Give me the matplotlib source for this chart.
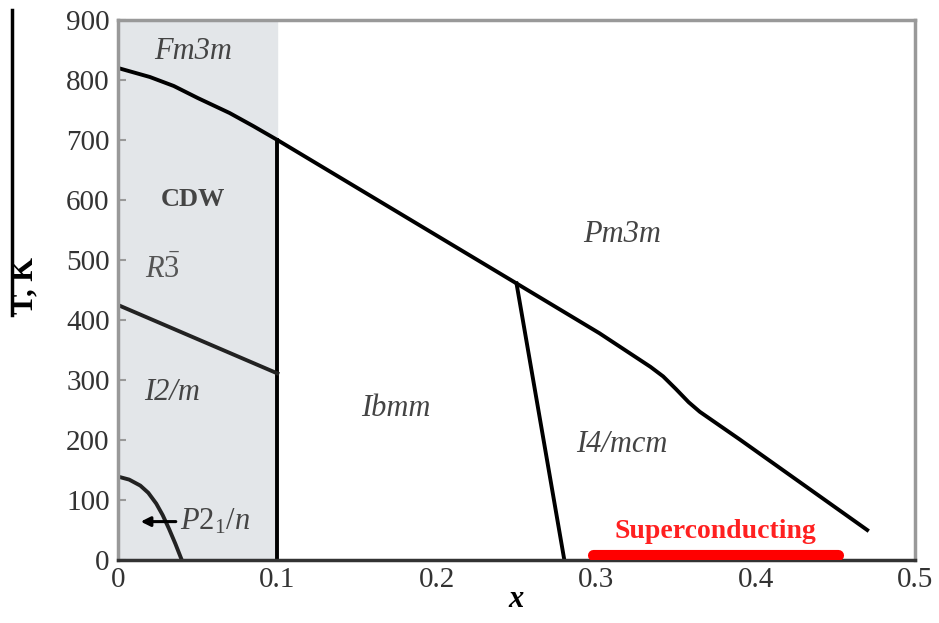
import matplotlib.pyplot as plt
from matplotlib.lines import Line2D

plt.rcParams['font.family'] = ['Liberation Serif', 'DejaVu Serif']
plt.rcParams['mathtext.fontset'] = 'custom'
plt.rcParams['mathtext.rm'] = 'Liberation Serif'
plt.rcParams['mathtext.it'] = 'Liberation Serif:italic'

# phase boundaries (x, T in K)
upper_x = [0.0, 0.02, 0.035, 0.05, 0.07, 0.085, 0.1, 0.25, 0.302, 0.334,
           0.342, 0.350, 0.358, 0.365, 0.39, 0.47]
upper_T = [820, 805, 790, 770, 745, 723, 700, 461, 378, 322,
           306, 285, 263, 247, 201, 50]
cdw_x = [0.1, 0.1]
cdw_T = [700, 0]
i2m_x = [0.0, 0.1]
i2m_T = [425, 311]
p21_x = [0.0, 0.007, 0.014, 0.019, 0.024, 0.028, 0.032, 0.036, 0.04]
p21_T = [139, 134, 124, 112, 94, 75, 52, 27, 0]
i4_x = [0.25, 0.28]
i4_T = [461, 0]
sc_x = [0.298, 0.452]
sc_T = [8, 8]

phase_names = ['Fm3m', 'Pm3m', 'I2/m', 'Ibmm', 'I4/mcm']
phase_x = [0.047, 0.316, 0.034, 0.174, 0.316]
phase_T = [847, 542, 280, 253, 192]

fig = plt.figure(figsize=(9.39, 6.23), dpi=100)
ax = fig.add_axes([118 / 939, 63 / 623, 797 / 939, 540 / 623])

ax.axvspan(0, 0.1, color='#e3e6e9', zorder=0)

lw = 2.8
ax.plot(upper_x, upper_T, color='black', lw=lw)
ax.plot(cdw_x, cdw_T, color='black', lw=lw)
ax.plot(i2m_x, i2m_T, color='#222222', lw=lw)
ax.plot(p21_x, p21_T, color='#222222', lw=lw)
ax.plot(i4_x, i4_T, color='black', lw=lw)
ax.plot(sc_x, sc_T, color='#ff0000', lw=8, solid_capstyle='round', zorder=5)

for name, px, pT in zip(phase_names, phase_x, phase_T):
    ax.text(px, pT, name, style='italic', fontsize=22, color='#444444',
            ha='center', va='center')

ax.text(0.047, 600, 'CDW', fontsize=19, fontweight='bold', color='#444444',
        ha='center', va='center')
ax.text(0.028, 483, r'$\mathit{R}\bar{\mathrm{3}}$', fontsize=22, color='#555555',
        ha='center', va='center')
ax.annotate('', xy=(0.0125, 64), xytext=(0.038, 64),
            arrowprops=dict(arrowstyle='-|>', color='black', lw=2.2, mutation_scale=14))
ax.text(0.039, 64, r'$\mathit{P}$2$_{1}$$\mathit{/n}$', fontsize=22, color='#444444',
        ha='left', va='center')
ax.text(0.3745, 48, 'Superconducting', fontsize=20, fontweight='bold',
        color='#ff2020', ha='center', va='center')

ax.set_xlim(0, 0.5)
ax.set_ylim(0, 900)
ax.set_xticks([0, 0.1, 0.2, 0.3, 0.4, 0.5])
ax.set_xticklabels(['0', '0.1', '0.2', '0.3', '0.4', '0.5'])
ax.set_yticks(range(0, 901, 100))
ax.tick_params(axis='x', length=0, labelsize=21, pad=5, labelcolor='#333333')
ax.tick_params(axis='y', direction='in', length=6, width=1.5, color='#999999',
               labelsize=21, pad=6, labelcolor='#333333')

for side in ['left', 'top', 'right']:
    ax.spines[side].set_color('#999999')
    ax.spines[side].set_linewidth(2.5)
ax.spines['bottom'].set_color('#333333')
ax.spines['bottom'].set_linewidth(2.5)

ax.set_xlabel('x', style='italic', fontweight='bold', fontsize=22, labelpad=-6)
fig.text(25 / 939, 1 - 285 / 623, 'T, K', rotation=90, fontsize=22,
         fontweight='bold', ha='center', va='center')
fig.add_artist(Line2D([12 / 939, 12 / 939], [1 - 10 / 623, 1 - 315 / 623],
                      color='black', lw=2.5))

fig.savefig('out.png', dpi=100, facecolor='white')
